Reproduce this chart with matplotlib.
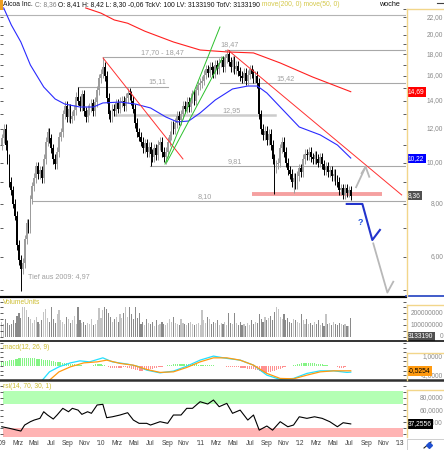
import numpy as np
import pandas as pd
import matplotlib
matplotlib.use("Agg")
import matplotlib.pyplot as plt
from matplotlib.lines import Line2D
from matplotlib.patches import Rectangle
from matplotlib.ticker import FixedLocator, NullLocator

plt.rcParams['font.family'] = ['Liberation Sans', 'DejaVu Sans']

#############################################
# Daten (Wochenkerzen, erste Woche 2009-01-02)
#############################################
start = pd.Timestamp('2009-01-02')

close = [11.4, 12.0, 11.0, 10.2, 9.0, 8.6, 8.0, 7.5, 6.4, 5.9,
         5.6, 5.8, 6.6, 7.2, 7.0, 8.2, 8.8, 9.2, 9.8, 9.4,
         9.6, 9.2, 10.2, 11.2, 11.8, 11.4, 10.8, 10.2, 9.9, 10.6,
         11.5, 11.8, 13.0, 13.6, 12.8, 13.4, 12.7, 12.9, 13.3, 14.3,
         14.0, 13.6, 14.5, 13.2, 12.8, 13.3, 13.5, 13.8, 13.2, 13.9,
         14.8, 15.8, 16.2, 16.8, 16.0, 14.2, 13.0, 12.8, 13.4, 13.2,
         13.8, 13.4, 13.9, 14.0, 13.6, 14.2, 14.6, 14.4, 14.0, 13.4,
         12.4, 11.8, 11.5, 11.2, 10.8, 11.1, 10.6, 10.9, 10.5, 10.3,
         10.8, 10.4, 11.0, 11.2, 10.6, 10.3, 10.6, 11.2, 11.6, 12.2,
         12.0, 12.4, 12.9, 12.6, 13.0, 13.6, 13.4, 13.9, 13.5, 14.2,
         14.5, 14.0, 14.8, 15.2, 15.4, 15.6, 16.1, 16.6, 16.3, 16.8,
         16.5, 16.2, 17.0, 16.6, 17.2, 17.4, 16.8, 17.6, 18.0, 17.3,
         16.8, 17.4, 16.6, 16.9, 16.4, 16.0, 15.8, 16.3, 15.6, 16.1,
         16.6, 16.2, 15.8, 16.0, 15.4, 13.0, 12.0, 11.6, 11.9, 11.3,
         11.7, 11.0, 10.2, 9.7, 9.9, 10.0, 10.8, 11.2, 10.6, 10.0,
         9.6, 9.4, 9.0, 9.2, 8.9, 9.3, 9.7, 9.5, 10.2, 10.5,
         10.4, 10.6, 10.3, 10.2, 10.4, 10.2, 10.0, 10.3, 9.9, 9.6,
         9.8, 9.5, 9.6, 9.3, 9.4, 9.1, 9.0, 8.6, 8.7, 8.4,
         8.7, 8.5, 8.6, 8.36]
first_open = 11.0
# auffaellige Dochte (Wochenindex: Kurs)
wick_low = {10: 4.97, 78: 9.81, 86: 9.9, 143: 8.45, 153: 8.5}
wick_high = {40: 15.11, 53: 17.70, 118: 18.47}

# Volumen in Mio
volume = [130, 110, 150, 120, 100, 110, 140, 120, 180, 200,
          160, 255, 258, 230, 170, 150, 120, 140, 170, 130,
          110, 140, 210, 240, 160, 130, 250, 150, 120, 190,
          230, 140, 130, 110, 170, 150, 120, 140, 180, 110,
          255, 140, 120, 130, 100, 120, 110, 150, 100, 110,
          140, 245, 160, 230, 250, 240, 200, 170, 130, 150,
          170, 130, 190, 160, 200, 255, 170, 250, 190, 150,
          250, 160, 200, 110, 130, 100, 150, 120, 110, 130,
          95, 140, 100, 105, 130, 110, 100, 120, 150, 130,
          170, 120, 110, 100, 150, 120, 110, 100, 115, 130,
          110, 100, 105, 120, 100, 230, 140, 115, 170, 150,
          110, 130, 120, 140, 100, 120, 110, 130, 100, 200,
          120, 110, 200, 120, 100, 130, 100, 110, 90, 120,
          100, 140, 110, 130, 120, 195, 150, 130, 170, 140,
          160, 180, 140, 210, 255, 240, 170, 150, 190, 140,
          160, 130, 120, 150, 140, 130, 120, 190, 140, 110,
          150, 110, 120, 100, 130, 110, 140, 100, 120, 95,
          190, 110, 120, 100, 130, 110, 100, 120, 105, 100,
          110, 95, 90, 160]

macd_hist = [0.40, 0.45, 0.50, 0.55, 0.60, 0.65, 0.70, 0.75, 0.80, 0.82,
             0.85, 0.86, 0.88, 0.86, 0.85, 0.85, 0.84, 0.82, 0.80, 0.78,
             0.75, 0.72, 0.70, 0.65, 0.62, 0.60, 0.56, 0.52, 0.48, 0.45,
             0.42, 0.40, 0.38, 0.35, 0.32, 0.30, 0.26, 0.22, 0.18, 0.14,
             0.10, 0.08, 0.06, 0.04, 0.02, 0.0, 0.0, 0.05, 0.12, 0.18,
             0.20, 0.22, 0.20, 0.15, 0.08, -0.05, -0.15, -0.22, -0.25, -0.25,
             -0.25, -0.22, -0.20, -0.18, -0.15, -0.15, -0.20, -0.25, -0.32, -0.38,
             -0.42, -0.48, -0.50, -0.52, -0.50, -0.48, -0.45, -0.40, -0.35, -0.30,
             -0.25, -0.20, -0.15, -0.12, -0.08, -0.05, 0.02, 0.08, 0.12, 0.16,
             0.18, 0.20, 0.22, 0.24, 0.25, 0.25, 0.24, 0.22, 0.22, 0.20,
             0.20, 0.18, 0.18, 0.16, 0.15, 0.15, 0.14, 0.12, 0.12, 0.10,
             0.08, 0.06, 0.04, 0.02, 0.0, -0.02, -0.04, -0.05, -0.06, -0.08,
             -0.10, -0.12, -0.14, -0.15, -0.16, -0.18, -0.20, -0.22, -0.25, -0.28,
             -0.30, -0.32, -0.35, -0.40, -0.45, -0.55, -0.62, -0.68, -0.72, -0.72,
             -0.70, -0.65, -0.58, -0.50, -0.42, -0.35, -0.28, -0.22, -0.15, -0.10,
             -0.05, 0.0, 0.05, 0.10, 0.15, 0.20, 0.24, 0.28, 0.30, 0.32,
             0.32, 0.32, 0.30, 0.30, 0.28, 0.26, 0.24, 0.22, 0.20, 0.16,
             0.12, 0.08, 0.05, 0.02, 0.0, -0.05, -0.12, -0.18, -0.20, -0.18,
             -0.10, -0.05, 0.0, 0.02]

macd_wk = [19, 25, 30, 36, 41, 46, 53, 58, 66, 71, 76, 83, 90, 97, 104, 111,
           118, 125, 132, 139, 146, 153, 160, 167, 174, 181, 183]
macd_val = [-2.1, -0.64, -0.09, 0.34, 0.56, 0.45, 0.89, 0.45, 0.20, -0.02, -0.45,
            -0.75, -0.56, -0.02, 0.64, 1.08, 0.83, 0.64, 0.09, -1.0, -1.47, -1.36,
            -0.81, -0.53, -0.53, -0.70, -0.67]
signal_wk = [22, 30, 36, 43, 50, 55, 62, 69, 76, 83, 90, 97, 104, 111, 118, 125,
             132, 139, 146, 153, 160, 167, 174, 183]
signal_val = [-2.1, -0.64, -0.09, 0.34, 0.45, 0.64, 0.28, 0.09, -0.38, -0.70, -0.64,
              -0.16, 0.45, 0.89, 0.89, 0.64, 0.09, -0.81, -1.36, -1.40, -1.0, -0.64,
              -0.53, -0.5254]

rsi_wk = [0, 4, 10, 12, 15, 17, 20, 22, 24, 27, 29, 32, 35, 37, 40, 42, 45, 47, 50,
          53, 55, 58, 62, 66, 69, 72, 76, 78, 83, 87, 90, 94, 97, 100, 104, 108, 111,
          114, 118, 121, 125, 129, 132, 135, 139, 142, 146, 150, 153, 156, 160, 164,
          168, 172, 176, 179, 183]
rsi_val = [32.6, 30, 25.5, 35.4, 40.9, 43.6, 46.4, 57.3, 51.9, 45.3, 51.9, 62.9, 57.3,
           62.9, 60, 53, 57.3, 54.7, 68.4, 69.5, 47.5, 49, 51.9, 55.7, 43.6, 38.2, 38.2,
           35.4, 40.9, 38.2, 51.9, 51.9, 62.9, 62.9, 73.8, 70, 76.6, 65.6, 71.1, 54.7, 60,
           43.6, 51.9, 27, 33.8, 27, 40.9, 32.6, 35.4, 49, 46.4, 49, 46.4, 40.9, 32.6,
           39.2, 37.2556]

# move(200) und move(50)
ma200_wk = [44, 52, 59, 66, 75, 90, 104, 118, 132, 146, 163, 183]
ma200_val = [23.14, 22.5, 21.68, 21.3, 20.4, 19.24, 18.42, 18.23, 18.13, 17.17, 15.91, 14.69]
ma50_wk = [1, 5, 10, 15, 22, 28, 33, 41, 48, 53, 62, 70, 78, 86, 92, 98, 104, 112, 121,
           129, 134, 139, 146, 156, 167, 176, 183]
ma50_val = [23.14, 21.10, 19.24, 16.98, 15.07, 14.12, 13.74, 13.52, 13.52, 13.82, 13.89,
            13.74, 13.45, 12.81, 12.47, 12.53, 13.09, 14.05, 14.91, 15.15, 15.15, 14.59,
            13.52, 12.13, 11.62, 11.00, 10.25]

# horizontale Marken
level_val = [17.70, 18.47, 15.11, 15.42, 12.95, 9.81, 8.10]
level_from = [53, 117, 40, 114.4, 59.4, 77.7, 15.9]
level_to = [117, 212, 87.2, 212, 143.3, 212, 212]
level_txt = ['17,70 - 18,47', '18,47', '15,11', '15,42', '12,95', '9,81', '8,10']
level_txt_wk = [84.3, 119.2, 81.7, 149.0, 120.7, 122.0, 106.6]

# Trendlinien / Zeichnungen
red1_wk, red1_val = [53.1, 95.0], [17.64, 10.2]
red2_wk, red2_val = [118.6, 209.7], [18.42, 8.39]
green1_wk, green1_val = [85.6, 114.4], [9.92, 20.87]
green2_wk, green2_val = [86.6, 116.0], [10.03, 17.73]
support_wk, support_val = [131.2, 199.4], [8.43, 8.43]
up_wk, up_val = [185.8, 190.8], [8.75, 9.78]
up_head_wk, up_head_val = [188.7, 190.8, 192.7], [9.44, 9.78, 9.26]
blue_wk, blue_val = [180.9, 189.1, 194.3, 198.3], [7.99, 7.99, 6.57, 6.94]
down_wk, down_val = [194.8, 202.2, 205.3], [6.45, 4.94, 5.24]

price_ticks = [6, 8, 10, 12, 14, 16, 18, 20, 22]
month_lbl = ["'09", 'Mrz', 'Mai', 'Jul', 'Sep', 'Nov',
             "'10", 'Mrz', 'Mai', 'Jul', 'Sep', 'Nov',
             "'11", 'Mrz', 'Mai', 'Jul', 'Sep', 'Nov',
             "'12", 'Mrz', 'Mai', 'Jul', 'Sep', 'Nov', "'13"]

########################################
### Figur
W, H = 444, 450
fig = plt.figure(figsize=(W / 100, H / 100), dpi=100)
fig.patch.set_facecolor('white')

def px_axes(x0, y0, x1, y1):
    return fig.add_axes([x0 / W, 1 - y1 / H, (x1 - x0) / W, (y1 - y0) / H])

def fline(xs, ys, **kw):
    fig.add_artist(Line2D([x / W for x in xs], [1 - y / H for y in ys], **kw))

def ftext(x, y, s, **kw):
    return fig.text(x / W, 1 - y / H, s, **kw)

ax = px_axes(0, 0, 406, 297)
axv = px_axes(0, 298, 406, 340)
axm = px_axes(0, 342, 406, 380)
axr = px_axes(0, 381, 406, 437)
XL = (-0.93, 211.97)
RX = 443 / 406
TX = 408 / 406
small = 4.8

for a in (ax, axv, axm, axr):
    for s in a.spines.values():
        s.set_visible(False)
    a.set_xlim(XL)
    a.tick_params(axis='y', which='both', direction='in', left=True, right=True,
                  length=2.5, width=0.6, color='#404040', labelleft=False, labelright=False)
    a.tick_params(axis='x', length=0, labelbottom=False)

########################################
### Kerzen
wk = np.arange(len(close))
c = np.array(close)
o = np.r_[first_open, c[:-1]]
up = c >= o
wick = 0.025
lo = np.minimum(o, c) * (1 - wick)
hi = np.maximum(o, c) * (1 + wick)
for i, v in wick_low.items():
    lo[i] = v
for i, v in wick_high.items():
    hi[i] = v
col = np.where(up, '#9c9c9c', '#000000')

ax.set_yscale('log')
ax.vlines(wk, lo, hi, colors=col, lw=0.7, zorder=3)
ax.bar(wk, np.maximum(np.abs(c - o), 0.04), bottom=np.minimum(o, c), width=0.9,
       color=col, lw=0, zorder=3)

ax.plot(ma200_wk, ma200_val, color='#ff2020', lw=0.8, zorder=4)
ax.plot(ma50_wk, ma50_val, color='#2a2aff', lw=0.8, zorder=4)

for v, a, b in zip(level_val, level_from, level_to):
    if v == 12.95:
        ax.plot([a, b], [v, v], color='#cccccc', lw=1.8, zorder=2)
    else:
        ax.plot([a, b], [v, v], color='#a8a8a8', lw=0.8, zorder=2)
for s, xw, v in zip(level_txt, level_txt_wk, level_val):
    ax.annotate(s, (xw, v), xytext=(0, 0.8), textcoords='offset points', ha='center',
                va='bottom', color='#a0a0a0', fontsize=5.2)
ax.text(13.8, 5.38, 'Tief aus 2009: 4,97', color='#a0a0a0', fontsize=5.2, va='center')

ax.plot(red1_wk, red1_val, color='#ff3030', lw=0.7, zorder=4)
ax.plot(red2_wk, red2_val, color='#ff3030', lw=0.7, zorder=4)
ax.plot(green1_wk, green1_val, color='#2cc02c', lw=0.7, zorder=4)
ax.plot(green2_wk, green2_val, color='#2cc02c', lw=0.7, zorder=4)
ax.plot(support_wk, support_val, color='#f5a0a0', lw=2.8, zorder=2, solid_capstyle='butt')
ax.plot(up_wk, up_val, color='#b8b8b8', lw=1.3, zorder=4)
ax.plot(up_head_wk, up_head_val, color='#b8b8b8', lw=1.3, zorder=4)
ax.plot(blue_wk, blue_val, color='#2233cc', lw=1.5, zorder=4)
ax.plot(down_wk, down_val, color='#b8b8b8', lw=1.3, zorder=4)
ax.text(187.8, 7.22, '?', color='#2255dd', fontsize=6.5, ha='center', va='center',
        fontweight='bold')

ax.set_ylim(4.823, 24.16)
ax.yaxis.set_major_locator(FixedLocator(range(5, 24)))
ax.yaxis.set_minor_locator(NullLocator())
ax.axhline(22.3, color='#b4b4b4', lw=0.8)

ytr = ax.get_yaxis_transform()
for v in price_ticks:
    ax.text(RX, v, f'{v:.2f}'.replace('.', ','), transform=ytr, ha='right', va='center',
            color='#8a8a8a', fontsize=small, clip_on=False)
for v, fc in [(14.69, '#ff0000'), (10.22, '#0000ff'), (8.36, '#505050')]:
    ax.text(TX, v, f'{v:.2f}'.replace('.', ','), transform=ytr, ha='left', va='center',
            color='white', fontsize=small, clip_on=False, zorder=6,
            bbox=dict(boxstyle='square,pad=0.2', fc=fc, ec='none'))

########################################
### Volumen
vcol = np.where(up, '#c4c4c4', '#8a8a8a')
axv.bar(wk, volume, width=0.6, color=vcol, lw=0)
axv.set_ylim(-28, 331)
axv.yaxis.set_major_locator(FixedLocator(range(0, 301, 50)))
vtr = axv.get_yaxis_transform()
for v, s in [(200, '200000000'), (100, '100000000'), (0, '0')]:
    axv.text(RX, v, s, transform=vtr, ha='right', va='center', color='#8a8a8a',
             fontsize=small, clip_on=False)
axv.text(TX, 3.13319, '3133190', transform=vtr, ha='left', va='center', color='white',
         fontsize=small, clip_on=False, bbox=dict(boxstyle='square,pad=0.2', fc='#505050', ec='none'))

########################################
### MACD
h = np.array(macd_hist)
axm.bar(wk, h, width=0.6, color=np.where(h >= 0, '#84f484', '#ff9090'), lw=0)
axm.plot(macd_wk, macd_val, color='#22e0ff', lw=0.9)
axm.plot(signal_wk, signal_val, color='#ff9a10', lw=0.9)
axm.set_ylim(-1.53, 2.62)
axm.yaxis.set_major_locator(FixedLocator([-1, -0.5, 0, 0.5, 1, 1.5, 2, 2.5]))
mtr = axm.get_yaxis_transform()
for v in (1.0, -1.0):
    axm.text(RX, v, f'{v:.4f}'.replace('.', ','), transform=mtr, ha='right', va='center',
             color='#8a8a8a', fontsize=small, clip_on=False)
axm.text(TX, -0.5254, '-0,5254', transform=mtr, ha='left', va='center', color='black',
         fontsize=small, clip_on=False, zorder=6,
         bbox=dict(boxstyle='square,pad=0.2', fc='#ff9a10', ec='none'))

########################################
### RSI
axr.axhspan(70, 92, xmin=3 / 406, xmax=403 / 406, color='#b4ffb4', lw=0)
axr.axhspan(15.7, 30, xmin=3 / 406, xmax=403 / 406, color='#ffb4b4', lw=0)
axr.plot(rsi_wk, rsi_val, color='black', lw=0.8)
axr.set_ylim(15.7, 107.9)
axr.yaxis.set_major_locator(FixedLocator(range(20, 101, 10)))
rtr = axr.get_yaxis_transform()
for v in (80, 60, 40):
    axr.text(RX, v, f'{v:.4f}'.replace('.', ','), transform=rtr, ha='right', va='center',
             color='#8a8a8a', fontsize=small, clip_on=False)
axr.text(TX, 37.2556, '37,2556', transform=rtr, ha='left', va='center', color='white',
         fontsize=small, clip_on=False, zorder=6,
         bbox=dict(boxstyle='square,pad=0.2', fc='black', ec='none'))

tick_dates = pd.date_range('2009-01-01', '2013-01-01', freq='2MS')
tick_wk = (tick_dates - start).days / 7
axr.set_xticks(tick_wk)
axr.set_xticklabels(month_lbl, fontsize=small, color='#404040')
axr.tick_params(axis='x', length=0, pad=2.5, labelbottom=True)

########################################
### Rahmen, Trennlinien, Kopfzeile
fline([0, 406], [297.3, 297.3], color='black', lw=1.6)
fline([406, 444], [296, 296], color='#2040c0', lw=1.2)
fline([0, 444], [340.8, 340.8], color='#101010', lw=1.2)
fline([0, 444], [380.4, 380.4], color='#303030', lw=1.8)
yellow = '#f2d68a'
for t, b in [(9, 296), (305, 340), (353, 380), (390, 437)]:
    fline([406.5, 406.5], [t, b], color=yellow, lw=1)
    fline([406.5, 444], [t, t], color=yellow, lw=1)
fline([437, 444], [2.5, 2.5], color='#404040', lw=0.8)
fig.add_artist(Rectangle((0, 1 - 10 / H), 2.7 / W, 10 / H, transform=fig.transFigure,
                         fc='#f0a020', ec='none'))
fig.add_artist(Rectangle((407 / W, 0), 37 / W, 11 / H, transform=fig.transFigure,
                         fc='white', ec='#c8c8c8', lw=0.6))
fline([424, 431], [448, 442], color='#202020', lw=0.8)
fline([429], [444.5], marker='D', ms=3, color='#2050d0', lw=0)

yl = '#cdbd30'
ftext(3, 302.5, 'VolumeUnits', color=yl, fontsize=small, va='center')
ftext(3, 347.5, 'macd(12, 26, 9)', color=yl, fontsize=small, va='center')
ftext(3, 386.5, 'rsi(14, 70, 30, 1)', color=yl, fontsize=small, va='center')

hs = 4.85
t1 = ftext(3, 4.7, 'Alcoa Inc.', color='#101010', fontsize=hs, va='center')
a2 = ax.annotate(' C: 8,36', xy=(1, 0), xycoords=t1, va='bottom', ha='left',
                 color='#808080', fontsize=hs, annotation_clip=False)
a3 = ax.annotate(' O: 8,41 H: 8,42 L: 8,30 -0,06 TckV: 100 LV: 3133190 TotV: 3133190',
                 xy=(1, 0), xycoords=a2, va='bottom', ha='left', color='#101010',
                 fontsize=hs, annotation_clip=False)
ax.annotate(' move(200, 0) move(50, 0)', xy=(1, 0), xycoords=a3, va='bottom', ha='left',
            color='#d4c84a', fontsize=hs, annotation_clip=False)
ftext(389, 4.7, 'woche', color='#101010', fontsize=5.2, ha='center', va='center')

fig.savefig('out.png', dpi=100)
